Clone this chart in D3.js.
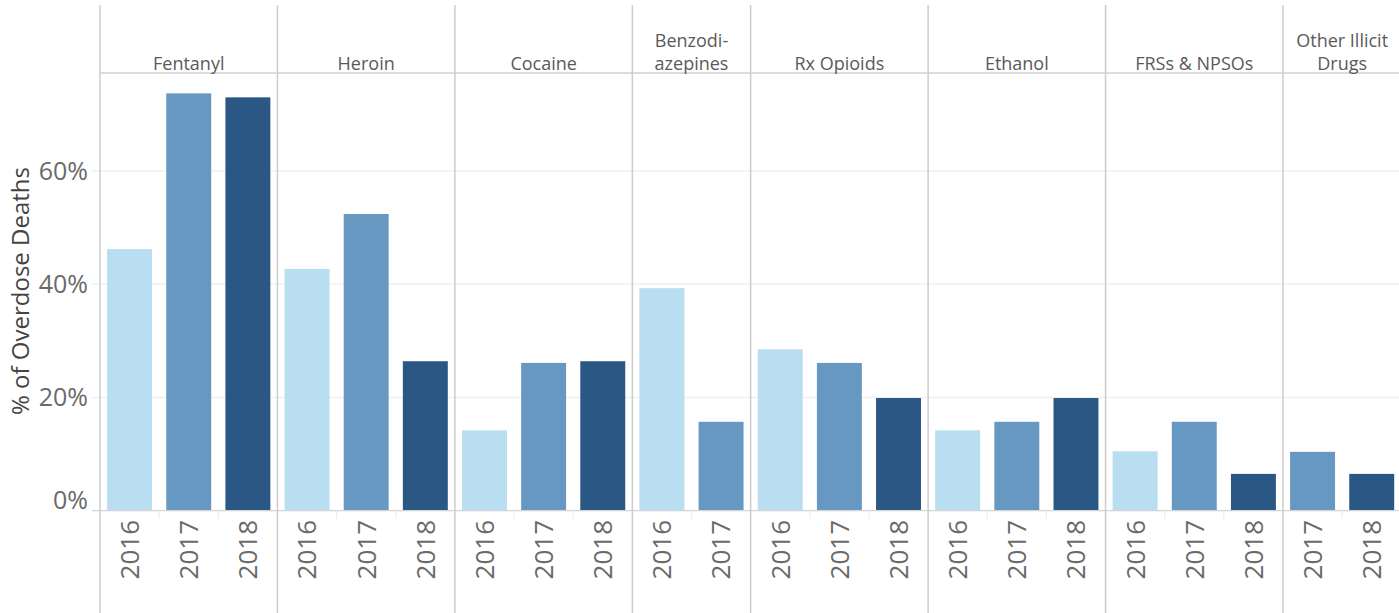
<!DOCTYPE html>
<html>
<head>
<meta charset="utf-8">
<script src="https://cdn.jsdelivr.net/npm/d3@7"></script>
<style>
  html, body { margin: 0; padding: 0; background: #fff; }
  svg { display: block; font-family: "Open Sans", "DejaVu Sans", sans-serif; }
</style>
</head>
<body>
<svg id="chart" width="1399" height="613"></svg>
<script>
// ---- data ----
const categories = ["Fentanyl", "Heroin", "Cocaine", "Benzodiazepines", "Rx Opioids", "Ethanol", "FRSs & NPSOs", "Other Illicit Drugs"];
const headerLines = [["Fentanyl"], ["Heroin"], ["Cocaine"], ["Benzodi-", "azepines"], ["Rx Opioids"], ["Ethanol"], ["FRSs & NPSOs"], ["Other Illicit", "Drugs"]];
const years = ["2016", "2017", "2018"];
const values2016 = [46.2, 42.7, 14.2, 39.3, 28.5, 14.2, 10.5, null];
const values2017 = [73.7, 52.4, 26.1, 15.7, 26.1, 15.7, 15.7, 10.4];
const values2018 = [73.0, 26.4, 26.4, null, 19.9, 19.9, 6.5, 6.5];
const yTicks = [0, 20, 40, 60];
const yearColors = ["#b9ddf1", "#6798c1", "#2a5783"];

(function () {
// ---- build rows ----
const seriesByYear = [values2016, values2017, values2018];
const rows = [];
categories.forEach((c, ci) => {
  years.forEach((yr, yi) => {
    const v = seriesByYear[yi][ci];
    if (v !== null && v !== undefined) rows.push({cat: c, ci, year: yr, yi, value: v, key: c + "|" + yr});
  });
});

const svg = d3.select("#chart");
const plotLeft = 100, plotTop = 73, plotBottom = 510.7, headerTop = 5;
const stepW = (1283 - 100) / 20;
const x = d3.scaleBand()
  .domain(rows.map(d => d.key))
  .range([plotLeft, plotLeft + stepW * rows.length])
  .paddingInner(0.24)
  .paddingOuter(0.12);
const y = d3.scaleLinear().domain([0, 77.3]).range([plotBottom, plotTop]);
const inset = (x.step() - x.bandwidth()) / 2;

// gridlines
svg.append("g").selectAll("line").data(yTicks.filter(t => t > 0)).join("line")
  .attr("x1", 92).attr("x2", 1399)
  .attr("y1", d => y(d)).attr("y2", d => y(d))
  .attr("stroke", "#f0f0f0").attr("stroke-width", 1.5);

// bars
svg.append("g").selectAll("rect").data(rows).join("rect")
  .attr("x", d => x(d.key))
  .attr("width", x.bandwidth())
  .attr("y", d => y(d.value))
  .attr("height", d => y(0) - y(d.value))
  .attr("fill", d => yearColors[d.yi]);

// baseline
svg.append("line").attr("x1", 92).attr("x2", 1399)
  .attr("y1", y(0)).attr("y2", y(0))
  .attr("stroke", "#d4d4d4").attr("stroke-width", 1.3);

// faint separators between year slots below baseline
svg.append("g").selectAll("line").data(rows.filter((d, i) => i > 0 && rows[i - 1].cat === d.cat)).join("line")
  .attr("x1", d => x(d.key) - inset).attr("x2", d => x(d.key) - inset)
  .attr("y1", y(0)).attr("y2", y(0) + 8)
  .attr("stroke", "#eeeeee").attr("stroke-width", 1.3);

// header line
svg.append("line").attr("x1", plotLeft).attr("x2", 1399)
  .attr("y1", plotTop).attr("y2", plotTop)
  .attr("stroke", "#d0d0d0").attr("stroke-width", 1.3);

// panel boundaries
const panels = categories.map((c, ci) => {
  const ks = rows.filter(r => r.ci === ci);
  return {ci, x0: x(ks[0].key) - inset, x1: x(ks[ks.length - 1].key) + x.bandwidth() + inset};
});
svg.append("g").selectAll("line").data(panels).join("line")
  .attr("x1", d => d.x0).attr("x2", d => d.x0)
  .attr("y1", headerTop).attr("y2", 613)
  .attr("stroke", "#cccccc").attr("stroke-width", 1.5);

// header labels
const hdr = svg.append("g").selectAll("text").data(panels).join("text")
  .attr("text-anchor", "middle")
  .attr("fill", "#5a5a5a")
  .attr("font-size", 18);
hdr.each(function(d) {
  const lines = headerLines[d.ci];
  const cx = (d.x0 + d.x1) / 2;
  lines.forEach((ln, li) => {
    d3.select(this).append("tspan")
      .attr("x", cx)
      .attr("y", 70 - (lines.length - 1 - li) * 23)
      .text(ln);
  });
});

// year labels
svg.append("g").selectAll("text").data(rows).join("text")
  .attr("transform", d => `translate(${x(d.key) + x.bandwidth() / 2},520) rotate(-90)`)
  .attr("text-anchor", "end")
  .attr("dy", "0.36em")
  .attr("fill", "#6a6a6a")
  .attr("font-size", 26)
  .text(d => d.year);

// y tick labels
svg.append("g").selectAll("text").data(yTicks).join("text")
  .attr("x", 88)
  .attr("y", d => y(d))
  .attr("dy", d => d === 0 ? "-0.05em" : "0.36em")
  .attr("text-anchor", "end")
  .attr("fill", "#6a6a6a")
  .attr("font-size", 25)
  .text(d => d + "%");

// y axis title
svg.append("text")
  .attr("transform", "translate(20,291) rotate(-90)")
  .attr("text-anchor", "middle")
  .attr("dy", "0.36em")
  .attr("fill", "#444")
  .attr("font-size", 24)
  .text("% of Overdose Deaths");
})();
</script>
</body>
</html>
